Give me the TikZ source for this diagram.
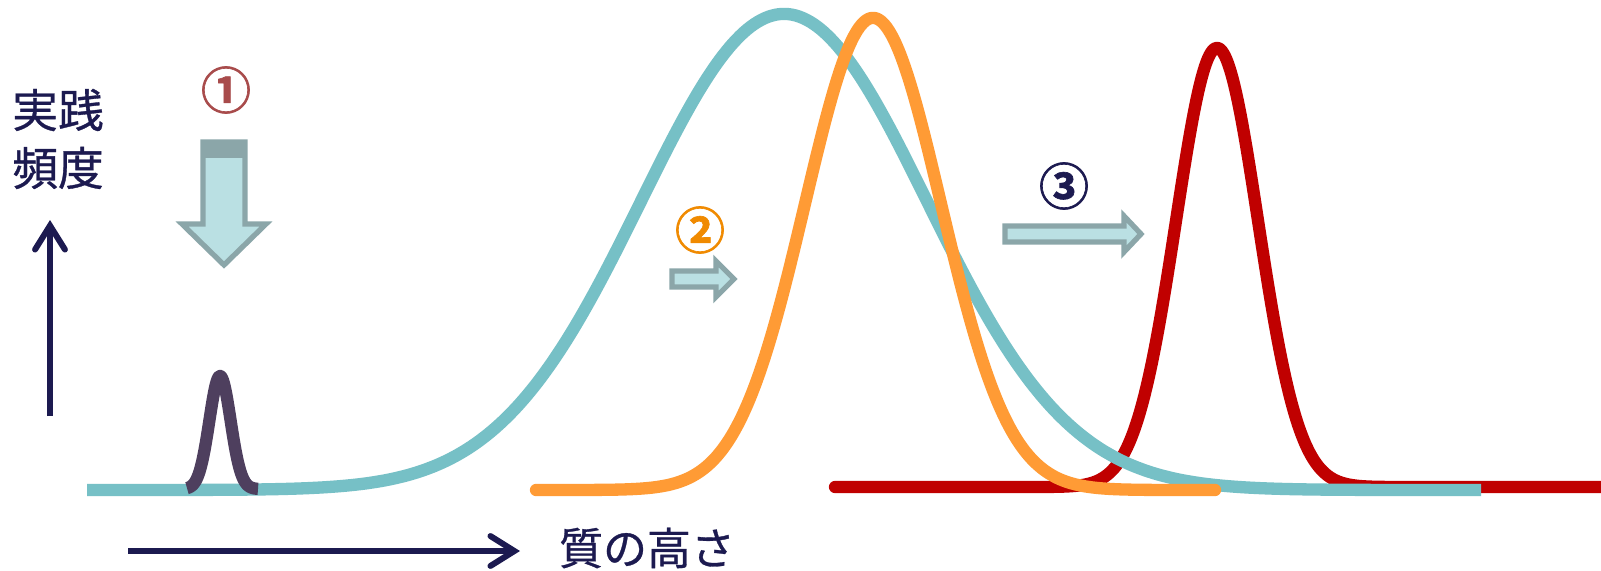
\documentclass[tikz,border=0pt]{standalone}
\usepackage{fontspec}
\setmainfont{Noto Sans CJK JP}
\newfontfamily\labfont[FakeBold=0.7]{Noto Sans CJK JP}
\newfontfamily\numfont[FakeBold=1.3]{Noto Sans CJK JP Bold}
\usetikzlibrary{arrows.meta}
\definecolor{cteal}{HTML}{76C0C6}
\definecolor{corange}{HTML}{FF9B35}
\definecolor{cred}{HTML}{C00000}
\definecolor{cpurple}{HTML}{4E3F5E}
\definecolor{cnavy}{HTML}{1C1A50}
\definecolor{cnumone}{HTML}{A84B4B}
\definecolor{cnumtwo}{HTML}{F08A00}
\definecolor{carrowfill}{HTML}{BAE0E3}
\definecolor{carrowline}{HTML}{8BA6A9}
\begin{document}
\begin{tikzpicture}[x=0.01cm,y=-0.01cm,
  curve/.style={line width=3.5pt, line join=round},
  axis/.style={draw=cnavy, line width=1.7pt, -{Straight Barb[length=6.8pt,width=8.5pt,line cap=round]}},
  blockarrow/.style={fill=carrowfill, draw=carrowline, line width=1.5pt, line join=miter},
  num/.style={inner sep=0pt, font=\numfont\fontsize{14.2pt}{14.2pt}\selectfont},
  lab/.style={inner sep=0pt, text=cnavy, font=\labfont\fontsize{13pt}{13pt}\selectfont}]
\useasboundingbox (0,0) rectangle (1601,570);
\fill[white] (0,0) rectangle (1601,570);
% curves
\draw[curve, cred, line cap=round] plot[domain=835:1610, samples=500] (\x,{487-439*exp(-min(((\x-1217)/41)^2/2,30))});
\draw[curve, cteal, line cap=butt] plot[domain=87:1481, samples=400] (\x,{490-476*exp(-min(((\x-784)/143)^2/2,30))});
\draw[curve, corange, line cap=round] plot[domain=536:1215, samples=400] (\x,{490-472*exp(-min(((\x-873)/68)^2/2,30))});
\draw[curve, cpurple, line cap=butt] plot[domain=187:258, samples=80] (\x,{489-113*exp(-((\x-220)/10.6)^2/2)});
% axes
\coordinate (yb) at (50,416);
\coordinate (yt) at (50,220);
\draw[axis] (yb) -- (yt);
\coordinate (xb) at (128,551);
\coordinate (xe) at (520,551);
\draw[axis] (xb) -- (xe);
% labels
\node[lab] (ylabA) at (58,110) {実践};
\node[lab] (ylabB) at (58,168) {頻度};
\node[lab, font=\labfont\fontsize{12.5pt}{12.5pt}\selectfont] (xlab) at (647,548) {質の高さ};
% circled numbers
\node[num, text=cnumone] (cA) at (226,90) {①};
\node[num, text=cnumtwo] (cB) at (700,230) {②};
\node[num, text=cnavy] (cC) at (1064,186) {③};
% block arrows
\draw[blockarrow] (203,142) -- (245,142) -- (245,224) -- (266,224) -- (224,265) -- (182,224) -- (203,224) -- cycle;
\fill[carrowline] (201,140) rectangle (247,158);
\draw[blockarrow] (672,271) -- (716,271) -- (716,261) -- (734,279) -- (716,297) -- (716,287) -- (672,287) -- cycle;
\draw[blockarrow] (1005,226) -- (1124,226) -- (1124,216) -- (1141,234) -- (1124,252) -- (1124,242) -- (1005,242) -- cycle;
\end{tikzpicture}
\end{document}
